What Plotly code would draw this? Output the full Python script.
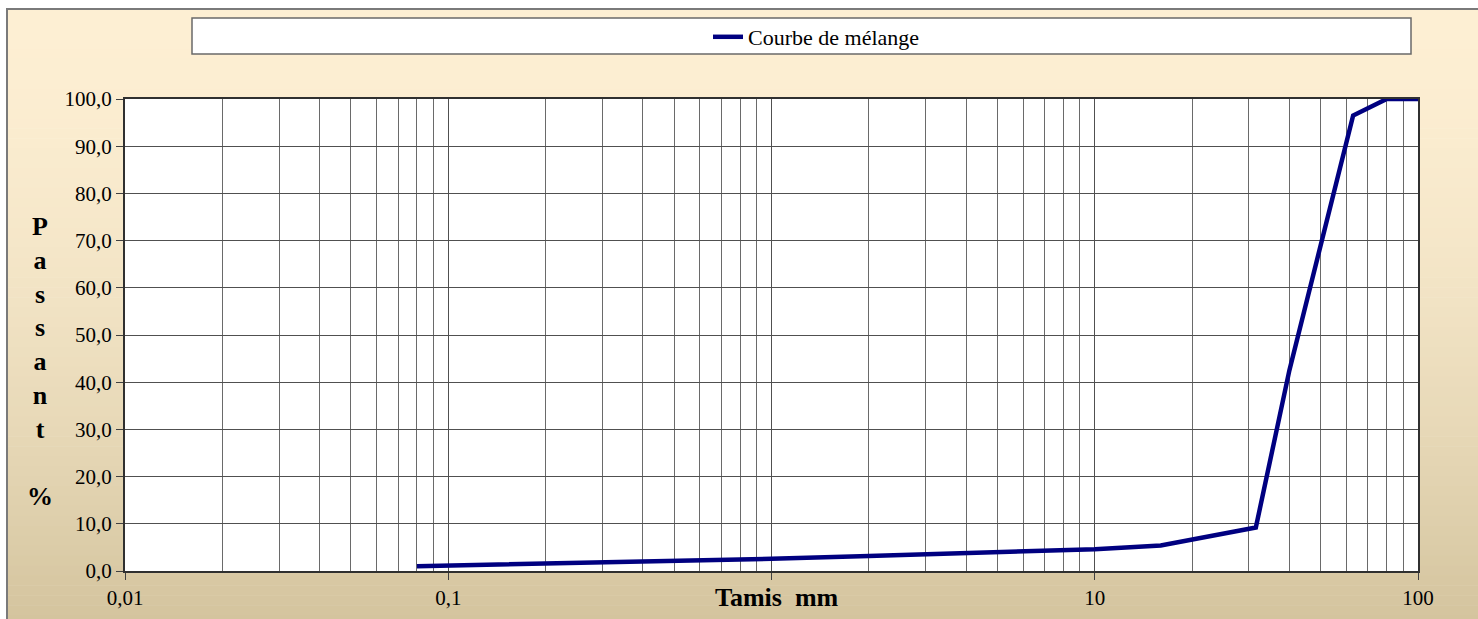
import plotly.graph_objects as go

# ---------------- data ----------------
sieve_mm = [0.08, 0.315, 1.0, 2.0, 5.0, 10.0, 16.0, 31.5, 40.0, 63.0, 80.0, 100.0]
passing_pct = [1.0, 1.8, 2.6, 3.2, 4.0, 4.6, 5.4, 9.2, 42.5, 96.5, 100.0, 100.0]
series_name = "Courbe de mélange"

x_major_vals = [0.01, 0.1, 1, 10, 100]
x_major_text = ["0,01", "0,1", "", "10", "100"]
x_minor_vals = [m * d for d in [0.01, 0.1, 1, 10] for m in range(2, 10)]
y_tick_vals = [0, 10, 20, 30, 40, 50, 60, 70, 80, 90, 100]
y_tick_text = ["0,0", "10,0", "20,0", "30,0", "40,0", "50,0", "60,0",
               "70,0", "80,0", "90,0", "100,0"]
x_title = "Tamis  mm"
y_title_letters = ["P", "a", "s", "s", "a", "n", "t", "", "%"]

# ---------------- geometry helpers ----------------
W, H = 1478, 619
ML, MR, MT, MB = 125, 60, 99, 48
PW, PH = W - ML - MR, H - MT - MB
FONT = "Liberation Serif, Times New Roman, serif"


def px(xp):
    return (xp - ML) / PW


def py(yp):
    return (H - MB - yp) / PH


shapes = []
# gradient background (stripes)
top = (253, 239, 211)
bot = (211, 195, 157)
y_start, y_end = 9, 625
n = 62
for i in range(n):
    ya = y_start + (y_end - y_start) * i / n
    yb = y_start + (y_end - y_start) * (i + 1) / n
    t = ((ya + yb) / 2 - y_start) / (y_end - y_start)
    t = t ** 1.7
    c = tuple(round(top[k] + (bot[k] - top[k]) * t) for k in range(3))
    shapes.append(dict(type="rect", xref="paper", yref="paper", layer="below",
                       x0=px(7), x1=px(1495), y0=py(ya), y1=py(yb + 0.6),
                       fillcolor="rgb(%d,%d,%d)" % c, line=dict(width=0)))
# outer frame
shapes.append(dict(type="rect", xref="paper", yref="paper", layer="below",
                   x0=px(7), x1=px(1495), y0=py(9), y1=py(640),
                   line=dict(color="#7a7a7a", width=2), fillcolor="rgba(0,0,0,0)"))
# legend box
shapes.append(dict(type="rect", xref="paper", yref="paper", layer="below",
                   x0=px(192), x1=px(1411), y0=py(18), y1=py(54),
                   line=dict(color="#6a6a6a", width=1.5), fillcolor="white"))
# plot area
shapes.append(dict(type="rect", xref="paper", yref="paper", layer="below",
                   x0=0, x1=1, y0=0, y1=1, line=dict(width=0), fillcolor="white"))

fig = go.Figure()
fig.add_trace(go.Scatter(x=sieve_mm, y=passing_pct, mode="lines", name=series_name,
                         line=dict(color="#000080", width=4.5),
                         showlegend=True))

annotations = [
    dict(text="<br>".join("<b>%s</b>" % c if c else "" for c in y_title_letters),
         xref="paper", yref="paper",
         x=px(40), y=py(361), xanchor="center", yanchor="middle", showarrow=False,
         font=dict(family=FONT, size=26, color="black"), align="center"),
    dict(text="<b>%s</b>" % x_title, xref="paper", yref="paper",
         x=px(777), y=py(597), xanchor="center", yanchor="middle", showarrow=False,
         font=dict(family=FONT, size=26, color="black")),
]

fig.update_layout(
    width=W, height=H,
    margin=dict(l=ML, r=MR, t=MT, b=MB, autoexpand=False),
    paper_bgcolor="white", plot_bgcolor="white",
    font=dict(family=FONT, size=21, color="black"),
    shapes=shapes, annotations=annotations,
    showlegend=True,
    legend=dict(x=px(708), y=py(37), xanchor="left", yanchor="middle",
                bgcolor="rgba(0,0,0,0)", borderwidth=0,
                font=dict(family=FONT, size=22, color="black")),
    xaxis=dict(type="log", range=[-2, 2], tickmode="array",
               tickvals=x_major_vals, ticktext=x_major_text,
               ticks="outside", ticklen=7, tickcolor="#404040", tickwidth=1,
               showgrid=True, gridcolor="#505050", gridwidth=1,
               minor=dict(tickmode="array", tickvals=x_minor_vals, showgrid=True,
                          gridcolor="#6a6a6a", gridwidth=1, ticks=""),
               showline=True, linecolor="#303030", linewidth=2, mirror=True,
               zeroline=False, layer="below traces",
               tickfont=dict(family=FONT, size=21, color="black")),
    yaxis=dict(range=[0, 100], tickmode="array", tickvals=y_tick_vals,
               ticktext=y_tick_text, ticks="outside", ticklen=7,
               tickcolor="#404040", tickwidth=1,
               showgrid=True, gridcolor="#505050", gridwidth=1,
               showline=True, linecolor="#303030", linewidth=2, mirror=True,
               zeroline=False, layer="below traces",
               tickfont=dict(family=FONT, size=21, color="black")),
)

fig.write_html("out.html", config={"displayModeBar": False},
               post_script="document.body.style.margin='0';document.body.style.padding='0';")
